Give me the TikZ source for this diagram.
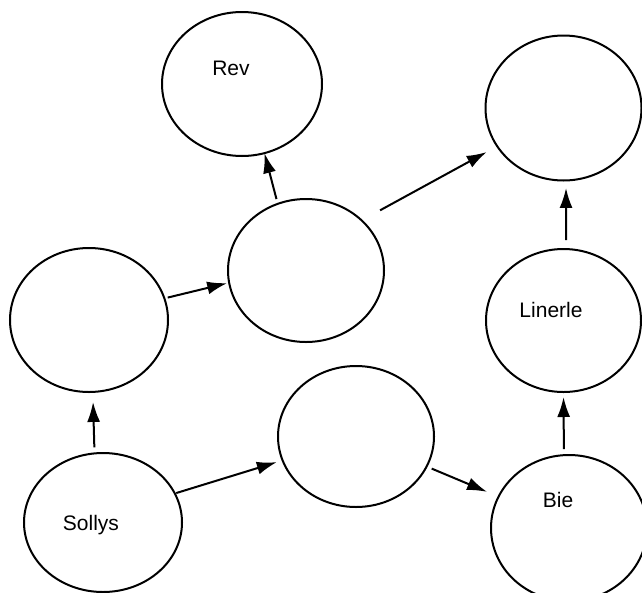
\documentclass[tikz,border=0pt]{standalone}
\usepackage{fontspec}
\setmainfont{Liberation Sans}
\usetikzlibrary{shapes.geometric,arrows.meta}
\begin{document}
\begin{tikzpicture}[x=1pt,y=-1pt,
  bubble/.style={ellipse,draw=black,line width=2pt,inner sep=0pt,outer sep=0pt},
  arr/.style={draw=black,line width=2pt,-{Latex[length=20pt,width=13pt]}},
  lbl/.style={inner sep=0pt,font=\fontsize{21}{25}\selectfont}]
\useasboundingbox (0,0) rectangle (642,592);
\clip (0,0) rectangle (642,592);
\fill[white] (0,0) rectangle (642,592);
% circles
\node[bubble,minimum width=160pt,minimum height=144pt] (rev) at (242,84) {};
\node[bubble,minimum width=156pt,minimum height=145pt] (tr)  at (563.5,108) {};
\node[bubble,minimum width=156pt,minimum height=143pt] (mid) at (306,270.5) {};
\node[bubble,minimum width=158pt,minimum height=144pt] (lft) at (89,320) {};
\node[bubble,minimum width=155pt,minimum height=143pt] (lin) at (563.5,320.5) {};
\node[bubble,minimum width=156pt,minimum height=141pt] (bm)  at (356,436.5) {};
\node[bubble,minimum width=158pt,minimum height=139pt] (sol) at (103,522.5) {};
\node[bubble,minimum width=156pt,minimum height=146pt] (bie) at (569,528) {};
% labels
\node[lbl] (revt) at (231,68) {Rev};
\node[lbl] (lint) at (551,310) {Linerle};
\node[lbl] (solt) at (91,525) {Sollys};
\node[lbl] (biet) at (558,500) {Bie};
% connectors
\draw[arr,shorten <=5pt] (mid.113) -- (rev.288);
\draw[arr,shorten <=21pt,shorten >=12pt] (mid.42) -- (tr.210);
\draw[arr,shorten <=3.5pt,shorten >=2pt] (lft.16) -- (mid.189);
\draw[arr,shorten <=6pt,shorten >=10pt] (sol.97) -- (lft.273);
\draw[arr,shorten <=1.5pt,shorten >=6pt] (sol.22) -- (bm.198);
\draw[arr,shorten <=5.5pt,shorten >=12.5pt] (bm.337) -- (bie.156);
\draw[arr,shorten <=6pt,shorten >=5pt] (bie.94) -- (lin.270);
\draw[arr,shorten <=9pt,shorten >=7.5pt] (lin.88) -- (tr.272);
\end{tikzpicture}
\end{document}
